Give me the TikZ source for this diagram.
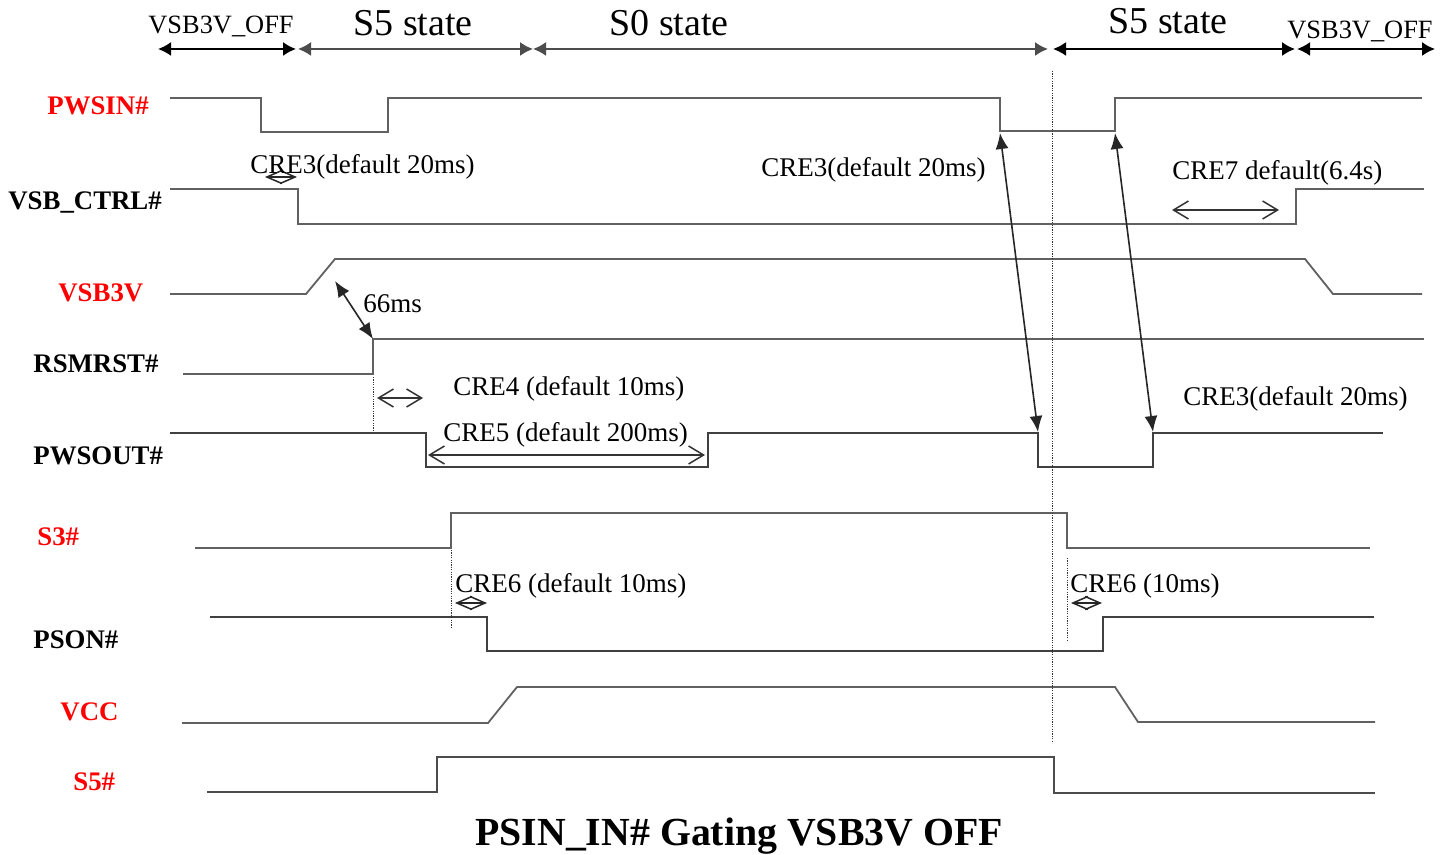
\documentclass[tikz,border=0pt]{standalone}
\usepackage{fontspec}
\setmainfont{Liberation Serif}
\usetikzlibrary{arrows.meta}

\begin{document}
\begin{tikzpicture}[
      x=0.5pt, y=-0.5pt,
      signal/.style={
         draw=black!62,
         line width=0.9pt,
         line join=miter
      },
      guide/.style={
         draw=black!80,
         line width=0.5pt,
         dash pattern=on 0.6pt off 0.6pt
      },
      state span/.style={
         draw=black!70,
         line width=0.9pt,
         {Latex[length=6.5pt,width=7pt]}-{Latex[length=6.5pt,width=7pt]}
      },
      delay/.style={
         draw=black!80,
         line width=0.75pt,
         {Straight Barb[length=7.5pt,width=9pt]}-{Straight Barb[length=7.5pt,width=9pt]}
      },
      short delay/.style={
         draw=black!85,
         line width=0.75pt,
         {Straight Barb[length=7.5pt,width=6.5pt]}-{Straight Barb[length=7.5pt,width=6.5pt]}
      },
      link/.style={
         draw=black!85,
         line width=0.8pt,
         {Latex[length=8pt,width=6.5pt]}-{Latex[length=8pt,width=6.5pt]}
      },
      annot/.style={
         inner sep=0pt, anchor=base west,
         font=\fontsize{13.5}{16}\selectfont
      },
      statename/.style={
         inner sep=0pt, anchor=base west,
         font=\fontsize{19}{22}\selectfont
      },
      offname/.style={
         inner sep=0pt, anchor=base west,
         font=\fontsize{13.2}{16}\selectfont
      },
      siglabel/.style={
         inner sep=0pt, anchor=base west,
         font=\bfseries\fontsize{13.4}{16}\selectfont
      },
      red label/.style={siglabel, text=red},
    ]
    \useasboundingbox[fill=white] (0,0) rectangle (1445,855);

    % state bar
    \node (off-l) [offname] at (148,34) {VSB3V\_OFF};
    \node (s5-l) [statename] at (353,36) {S5 state};
    \node (s0) [statename] at (609,36) {S0 state};
    \node (s5-r) [statename] at (1108,34) {S5 state};
    \node (off-r) [offname] at (1287,39) {VSB3V\_OFF};
    \draw[state span, draw=black] (158,49) -- (296,49);
    \draw[state span] (298,49) -- (533,49);
    \draw[state span] (533,49) -- (1048,49);
    \draw[state span, draw=black] (1053,49) -- (1295,49);
    \draw[state span, draw=black] (1297,49) -- (1435,49);

    % signal names
    \node (l-pwsin)  [red label] at (47,115)  {PWSIN\#};
    \node (l-vsbctl) [siglabel]  at (8,210)   {VSB\_CTRL\#};
    \node (l-vsb3v)  [red label] at (58,302)  {VSB3V};
    \node (l-rsmrst) [siglabel]  at (33,372)  {RSMRST\#};
    \node (l-pwsout) [siglabel]  at (33,465)  {PWSOUT\#};
    \node (l-s3)     [red label] at (37,545)  {S3\#};
    \node (l-pson)   [siglabel]  at (33,648)  {PSON\#};
    \node (l-vcc)    [red label] at (60,720)  {VCC};
    \node (l-s5)     [red label] at (73,790)  {S5\#};

    % waveforms
    \draw[signal] (170,98) -- (261,98) |- (388,132) |- (1000,98) |- (1115,131) |- (1422,98);
    \draw[signal] (170,189) -- (298,189) |- (1296,224) |- (1424,189);
    \draw[signal] (170,294) -- (306,294) -- (335,259) -- (1305,259) -- (1333,294) -- (1422,294);
    \draw[signal] (183,374) -- (373,374) |- (1424,339);
    \draw[signal, draw=black!75] (170,433) -- (426,433) |- (708,467) |- (1038,433) |- (1153,467) |- (1383,433);
    \draw[signal] (195,548) -- (451,548) |- (1067,513) |- (1370,548);
    \draw[signal, draw=black!75] (210,617) -- (487,617) |- (1103,651) |- (1374,617);
    \draw[signal] (182,723) -- (488,723) -- (517,687) -- (1115,687) -- (1138,722) -- (1375,722);
    \draw[signal, draw=black!70] (207,792) -- (437,792) |- (1054,757) |- (1375,793);

    % edges used by the timing arrows
    \coordinate (pwsin-fall) at (1000,133);
    \coordinate (pwsin-rise) at (1115,133);
    \coordinate (pwsout-fall) at (1038,432);
    \coordinate (pwsout-rise) at (1153,432);
    \coordinate (vsb-ramp) at (335,281);
    \coordinate (rsm-rise) at (373,339);

    % guides
    \draw[guide] (1052,71) -- (1052,743);
    \draw[guide] (373,377) -- (373,430);
    \draw[guide] (451,550) -- (451,628);
    \draw[guide] (1067,558) -- (1067,640);

    % delays
    \draw[short delay] (265,177) -- (297,177);
    \node (cre3-a) [annot] at (250,174) {CRE3(default 20ms)};
    \node (cre3-b) [annot] at (761,177) {CRE3(default 20ms)};
    \draw[link] (pwsin-fall) -- (pwsout-fall);
    \draw[link] (pwsin-rise) -- (pwsout-rise);
    \node (cre7) [annot] at (1172,180) {CRE7 default(6.4s)};
    \draw[delay] (1172,210) -- (1279,210);
    \draw[link] (vsb-ramp) -- (rsm-rise);
    \node (t66) [annot] at (363,313) {66ms};
    \draw[delay] (377,398) -- (423,398);
    \node (cre4) [annot] at (453,395) {CRE4 (default 10ms)};
    \node (cre5) [annot] at (443,442) {CRE5 (default 200ms)};
    \draw[delay] (428,455) -- (705,455);
    \node (cre3-c) [annot] at (1183,406) {CRE3(default 20ms)};
    \node (cre6-a) [annot] at (455,592) {CRE6 (default 10ms)};
    \draw[short delay] (455,603) -- (487,603);
    \node (cre6-b) [annot] at (1070,592) {CRE6 (10ms)};
    \draw[short delay] (1071,603) -- (1102,603);

    \node (title) [inner sep=0pt, anchor=base west, font=\bfseries\fontsize{19.9}{24}\selectfont]
       at (475,845) {PSIN\_IN\# Gating VSB3V OFF};
\end{tikzpicture}
\end{document}
